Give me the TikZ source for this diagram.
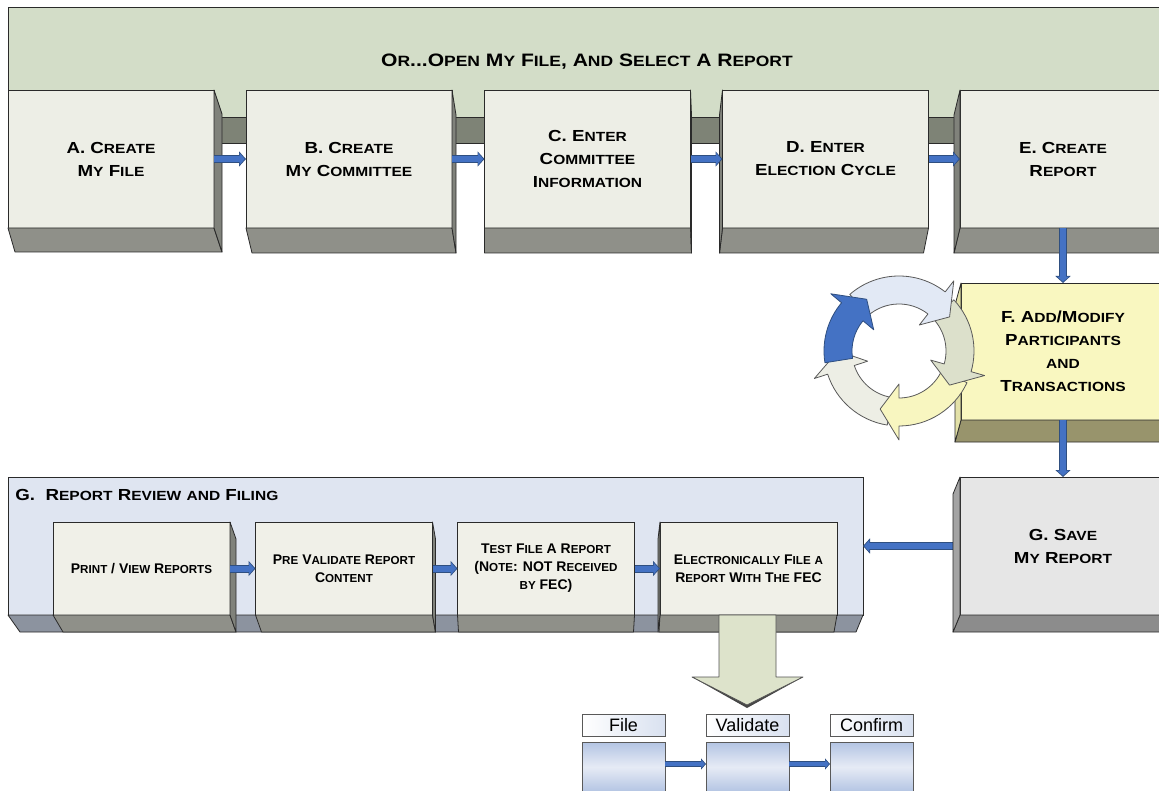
\documentclass[tikz,border=0pt]{standalone}
\usepackage{fontspec}
\usepackage{graphicx}
\setmainfont{Liberation Sans}
\newfontfamily\widefont{Liberation Sans}[FakeStretch=1.17]
\usetikzlibrary{arrows.meta,calc}
\definecolor{banner}{HTML}{D3DDC8}
\definecolor{bannerbot}{HTML}{7E8376}
\definecolor{front}{HTML}{EDEEE6}
\definecolor{bot}{HTML}{8F9089}
\definecolor{side}{HTML}{80827B}
\definecolor{edge}{HTML}{2A2A2A}
\definecolor{arrowblue}{HTML}{4472C4}
\definecolor{arrowedge}{HTML}{2F4F80}
\definecolor{fyellow}{HTML}{F9F7C0}
\definecolor{fyside}{HTML}{E3E1A8}
\definecolor{fybot}{HTML}{98946C}
\definecolor{panel}{HTML}{DFE5F1}
\definecolor{panelbot}{HTML}{8C939F}
\definecolor{inner}{HTML}{F0F0E8}
\definecolor{save}{HTML}{E6E6E6}
\definecolor{savebot}{HTML}{8C8C8C}
\definecolor{saveside}{HTML}{A3A3A3}
\definecolor{bigarrow}{HTML}{DDE3CB}
\definecolor{cgray}{HTML}{EDEEE5}
\definecolor{cyellow}{HTML}{F8F6C0}
\definecolor{cgreen}{HTML}{DCE0CB}
\definecolor{clblue}{HTML}{E2E9F5}
\definecolor{cblue}{HTML}{4472C4}
\definecolor{labelblue}{HTML}{D9E1F0}
\definecolor{boxblue}{HTML}{B3C4E3}
\definecolor{boxlight}{HTML}{E6EBF5}
\newcommand\smc[1]{\scalebox{0.83}{#1}}
\newcommand\botface[5]{\filldraw[fill=#5,draw=edge,line join=round] (#1.south west) -- (#1.south east) -- ++(#3,#4) -- ($(#1.south west)+(#2,#4)$) -- cycle;}
\newcommand\rface[4]{\filldraw[fill=#4,draw=edge,line join=round] (#1.north east) -- ++(#2,#3) -- ($(#1.south east)+(#2,#3)$) -- (#1.south east) -- cycle;}
\newcommand\lface[4]{\filldraw[fill=#4,draw=edge,line join=round] (#1.north west) -- ++(#2,#3) -- ($(#1.south west)+(#2,#3)$) -- (#1.south west) -- cycle;}
\newcommand\cyc[4]{\filldraw[fill=#1,draw=#2,line width=0.8pt,line join=round] (#3:75) arc[start angle=#3,end angle=#4,radius=75] -- (#4:89) -- ({#4+18}:61) -- (#4:33) -- (#4:47) arc[start angle=#4,end angle=#3,radius=47] -- cycle;}
\tikzset{
  topbox/.style={draw=edge, fill=front, minimum width=206, minimum height=138, inner sep=0, outer sep=0, align=center, font=\widefont\bfseries\fontsize{16}{23}\selectfont},
  innerbox/.style={draw=edge, fill=inner, minimum width=177, minimum height=93, inner sep=0, outer sep=0, align=center, font=\bfseries\fontsize{14}{18}\selectfont},
  labelbox/.style={draw=gray!70!black, left color=white, right color=labelblue, minimum width=83, minimum height=22, inner sep=0, outer sep=0, font=\fontsize{18}{20}\selectfont},
  stepbox/.style={draw=gray!70!black, top color=boxblue, bottom color=boxblue, middle color=boxlight, minimum width=83, minimum height=50, inner sep=0, outer sep=0},
  blk/.style={draw=arrowedge, line width=8pt, -{Triangle[length=7pt,width=15pt]}, postaction={draw=arrowblue, line width=6pt, -{Triangle[length=5pt,width=11.5pt]}, shorten >=1.3pt}},
  blks/.style={draw=arrowedge, line width=6pt, -{Triangle[length=5pt,width=11pt]}, postaction={draw=arrowblue, line width=4.2pt, -{Triangle[length=3.6pt,width=8pt]}, shorten >=1.1pt}}
}
\begin{document}
\begin{tikzpicture}[x=1pt,y=-1pt,line width=0.8pt]
\useasboundingbox (0,0) rectangle (1159,791);
\fill[white] (0,0) rectangle (1159,791);
\clip (0,0) rectangle (1159,791);

% banner
\node[draw=edge, fill=banner, minimum width=1158, minimum height=110, inner sep=0, outer sep=0, font=\widefont\bfseries\fontsize{18}{22}\selectfont] (ban) at (587,62) {O\smc{R}...O\smc{PEN} M\smc{Y} F\smc{ILE}, A\smc{ND} S\smc{ELECT} A R\smc{EPORT}};
\botface{ban}{0}{0}{26}{bannerbot}

% top row
\node[topbox] (A) at (111,159) {A. C\smc{REATE}\\M\smc{Y} F\smc{ILE}};
\botface{A}{7}{8}{24}{bot}\rface{A}{8}{24}{side}
\node[topbox] (B) at (349,159) {B. C\smc{REATE}\\M\smc{Y} C\smc{OMMITTEE}};
\botface{B}{6}{4}{25}{bot}\rface{B}{4}{25}{side}
\node[topbox] (C) at (587.5,159) {C. E\smc{NTER}\\C\smc{OMMITTEE}\\I\smc{NFORMATION}};
\botface{C}{0}{1}{25}{bot}\rface{C}{1}{25}{side}
\node[topbox] (D) at (825.5,159) {D. E\smc{NTER}\\E\smc{LECTION} C\smc{YCLE}};
\botface{D}{-3}{-5}{25}{bot}\lface{D}{-3}{25}{side}
\node[topbox] (E) at (1063,159) {E. C\smc{REATE}\\R\smc{EPORT}};
\botface{E}{-6}{0}{25}{bot}\lface{E}{-6}{25}{side}

\draw[blk] (A) -- (B);
\draw[blk] (B) -- (C);
\draw[blk] (C) -- (D);
\draw[blk] (D) -- (E);

% F box
\node[topbox, fill=fyellow, minimum width=204, minimum height=137] (F) at (1063,351.5) {F. A\smc{DD}/M\smc{ODIFY}\\P\smc{ARTICIPANTS}\\\smc{AND}\\T\smc{RANSACTIONS}};
\botface{F}{-6}{0}{22}{fybot}\lface{F}{-6}{22}{fyside}
\draw[blk] (E) -- (F);

% cycle
\begin{scope}[shift={(899,351)}]
\cyc{cgray}{gray!70!black}{99}{162}
\cyc{cyellow}{gray!70!black}{25}{90}
\cyc{cgreen}{gray!70!black}{-43}{16}
\cyc{clblue}{gray!70!black}{-131}{-52}
\cyc{cblue}{arrowedge}{171}{220}
\end{scope}

% G panel
\node[draw=edge, fill=panel, minimum width=855, minimum height=138, inner sep=0, outer sep=0] (P) at (435.5,546) {};
\botface{P}{12}{-7}{17}{panelbot}
\node[anchor=base west, inner sep=0, font=\widefont\bfseries\fontsize{16}{20}\selectfont] (ptitle) at ($(P.north west)+(7,23)$) {G.\ \ R\smc{EPORT} R\smc{EVIEW} \smc{AND} F\smc{ILING}};

\node[innerbox] (b1) at (141.5,568.5) {P\smc{RINT} / V\smc{IEW} R\smc{EPORTS}};
\botface{b1}{10}{6}{17}{bot}\rface{b1}{6}{17}{side}
\node[innerbox] (b2) at (344,568.5) {P\smc{RE} V\smc{ALIDATE} R\smc{EPORT}\\C\smc{ONTENT}};
\botface{b2}{6}{3}{17}{bot}\rface{b2}{3}{17}{side}
\node[innerbox] (b3) at (546,568.5) {T\smc{EST} F\smc{ILE} A R\smc{EPORT}\\(N\smc{OTE}: NOT R\smc{ECEIVED}\\\smc{BY} FEC)};
\botface{b3}{1}{-1}{17}{bot}
\node[innerbox] (b4) at (748.5,568.5) {E\smc{LECTRONICALLY} F\smc{ILE} \smc{A}\\R\smc{EPORT} W\smc{ITH} T\smc{HE} FEC};
\botface{b4}{-1}{-3}{17}{bot}\lface{b4}{-2}{17}{side}

\draw[blk] (b1) -- (b2);
\draw[blk] (b2) -- (b3);
\draw[blk] (b3) -- (b4);

% G save
\node[topbox, fill=save] (S) at (1063,546) {G. S\smc{AVE}\\M\smc{Y} R\smc{EPORT}};
\draw[blk] (S) -- (P);
\botface{S}{-7}{0}{17}{savebot}\lface{S}{-7}{17}{saveside}
\draw[blk] (F) -- (S);

% big down arrow
\coordinate (bt) at (b4.south);
\fill[gray!55!black] ($(bt)+(-56.5,62)$) -- ($(bt)+(-1.5,93)$) -- ($(bt)+(54.5,62)$) -- cycle;
\filldraw[fill=bigarrow, draw=gray!65!black, line join=round] ($(bt)+(-29.5,0)$) -- ($(bt)+(27.5,0)$) -- ($(bt)+(27.5,62)$) -- ($(bt)+(54.5,62)$) -- ($(bt)+(-1.5,90)$) -- ($(bt)+(-56.5,62)$) -- ($(bt)+(-29.5,62)$) -- cycle;

% bottom steps
\node[labelbox] (Lf) at (623.5,725) {File};
\node[labelbox] (Lv) at (747.5,725) {Validate};
\node[labelbox] (Lc) at (871.5,725) {Confirm};
\node[stepbox] (Bf) at (623.5,767) {};
\node[stepbox] (Bv) at (747.5,767) {};
\node[stepbox] (Bc) at (871.5,767) {};
\draw[blks] ([yshift=3]Bf.east) -- ([yshift=3]Bv.west);
\draw[blks] ([yshift=3]Bv.east) -- ([yshift=3]Bc.west);
\end{tikzpicture}
\end{document}
